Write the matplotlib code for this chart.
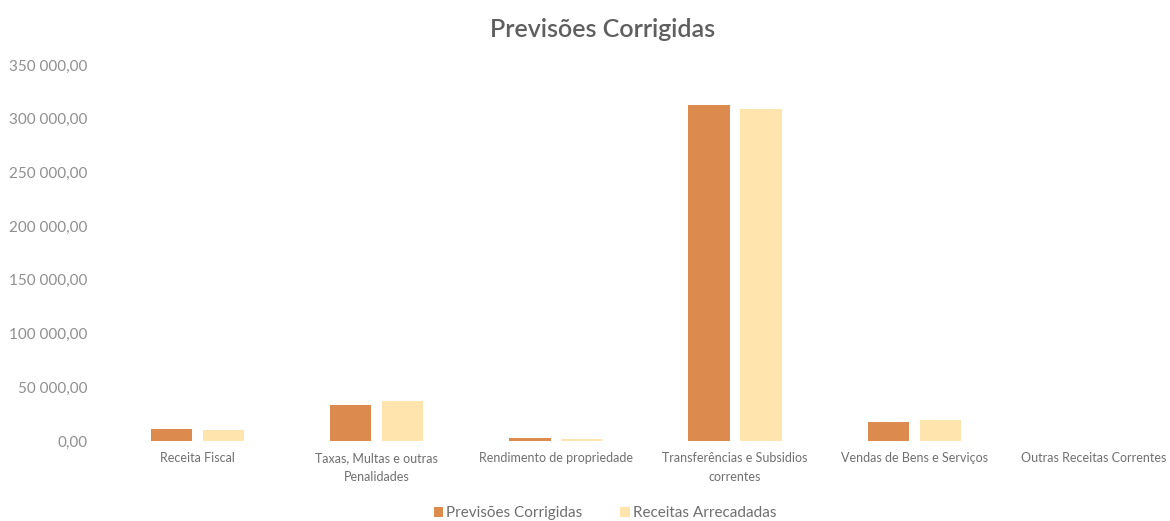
import matplotlib.pyplot as plt
from matplotlib.ticker import FuncFormatter
import numpy as np

plt.rcParams['font.family'] = ['Lato', 'DejaVu Sans']

categorias = ['Receita Fiscal', 'Taxas, Multas e outras\nPenalidades', 'Rendimento de propriedade',
              'Transferências e Subsidios\ncorrentes', 'Vendas de Bens e Serviços', 'Outras Receitas Correntes']
previsoes = [11500, 33500, 2800, 312500, 17800, 0]
receitas = [10500, 37000, 2000, 309000, 19500, 0]

cor_prev = '#DD8A4E'
cor_rec = '#FFE4AE'
cinza = '#8F8F8F'

def formata(v, pos):
    s = '{:,.2f}'.format(v)
    return s.replace(',', ' ').replace('.', ',')

fig = plt.figure(figsize=(11.7, 5.21), dpi=100)
ax = fig.add_axes([108 / 1170, 80 / 521, 1075 / 1170, 376 / 521])

x = np.arange(len(categorias))
w = 0.23
ax.bar(x - 0.145, previsoes, w, color=cor_prev, label='Previsões Corrigidas')
ax.bar(x + 0.145, receitas, w, color=cor_rec, label='Receitas Arrecadadas')

ax.set_xlim(-0.5, len(categorias) - 0.5)
ax.set_ylim(0, 350000)
ax.set_yticks(np.arange(0, 350001, 50000))
ax.yaxis.set_major_formatter(FuncFormatter(formata))
ax.set_xticks(x)
ax.set_xticklabels(categorias, fontsize=9, color='#6F6F6F', linespacing=1.7)
ax.tick_params(axis='y', labelsize=11, colors=cinza, length=0, pad=15)
ax.tick_params(axis='x', length=0, pad=8)
for s in ax.spines.values():
    s.set_visible(False)

fig.suptitle('Previsões Corrigidas', x=0.515, y=0.965, fontsize=18, color='#5F5F5F', fontweight='semibold')
fig.legend(loc='lower center', bbox_to_anchor=(0.517, -0.025), ncol=2, frameon=False,
           fontsize=11, labelcolor='#6F6F6F', handlelength=0.6, handleheight=0.6,
           handletextpad=0.2, columnspacing=2.5)

fig.savefig('out.png', dpi=100)
